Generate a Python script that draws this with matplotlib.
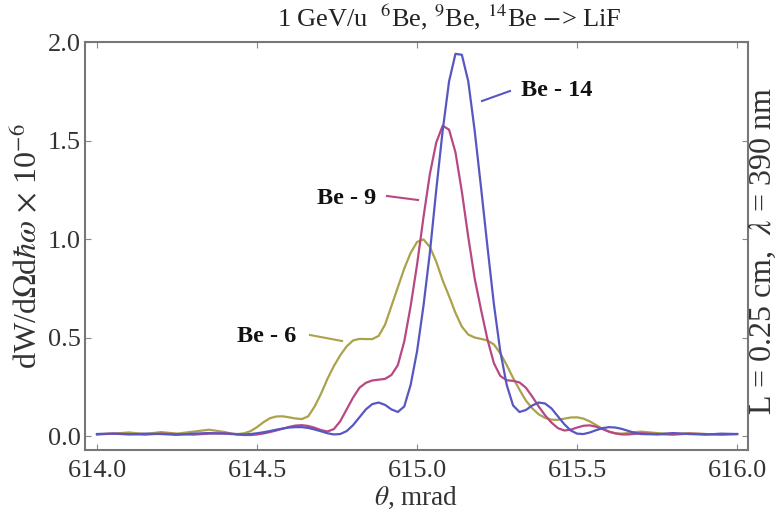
import numpy as np
import matplotlib
matplotlib.use("Agg")
import matplotlib.pyplot as plt

plt.rcParams['font.family'] = ['Liberation Serif', 'DejaVu Serif']
plt.rcParams['mathtext.fontset'] = 'stix'

# angle grid, mrad: coarse in the tails, fine around the peaks
theta = np.concatenate([
    np.round(np.arange(614.00, 614.36, 0.05), 2),
    np.round(np.arange(614.40, 615.701, 0.02), 2),
    np.round(np.arange(615.75, 616.001, 0.05), 2),
])

# dW/dOmega d(hbar omega), units of 1e-6
be14 = [0.010, 0.012, 0.008, 0.012, 0.010, 0.006, 0.012, 0.015,
        0.012, 0.010, 0.008, 0.008, 0.010, 0.014, 0.019, 0.025, 0.032, 0.038,
        0.043, 0.045, 0.045, 0.041, 0.033, 0.024, 0.014, 0.008, 0.010, 0.025,
        0.055, 0.095, 0.135, 0.162, 0.170, 0.158, 0.135, 0.122, 0.150, 0.260,
        0.430, 0.660, 0.930, 1.250, 1.550, 1.800, 1.940, 1.935, 1.800, 1.550,
        1.260, 0.960, 0.670, 0.430, 0.260, 0.155, 0.122, 0.132, 0.155, 0.170,
        0.165, 0.140, 0.100, 0.060, 0.028, 0.012, 0.010, 0.018, 0.030, 0.040,
        0.045, 0.043, 0.036, 0.026, 0.016, 0.010,
        0.008, 0.015, 0.010, 0.007, 0.012, 0.010]

be9 = [0.008, 0.012, 0.010, 0.007, 0.012, 0.010, 0.007, 0.012,
       0.014, 0.012, 0.008, 0.005, 0.005, 0.008, 0.013, 0.020, 0.028, 0.037,
       0.046, 0.053, 0.055, 0.051, 0.042, 0.030, 0.023, 0.035, 0.075, 0.135,
       0.195, 0.245, 0.270, 0.282, 0.286, 0.290, 0.310, 0.360, 0.480, 0.660,
       0.870, 1.110, 1.330, 1.490, 1.575, 1.555, 1.440, 1.240, 1.010, 0.800,
       0.640, 0.490, 0.370, 0.305, 0.283, 0.280, 0.272, 0.245, 0.200, 0.150,
       0.105, 0.068, 0.040, 0.028, 0.032, 0.043, 0.052, 0.054, 0.047, 0.035,
       0.022, 0.013, 0.008, 0.008, 0.011, 0.014,
       0.010, 0.007, 0.012, 0.010, 0.007, 0.010]

be6 = [0.010, 0.012, 0.018, 0.010, 0.020, 0.012, 0.022, 0.032,
       0.020, 0.012, 0.010, 0.014, 0.025, 0.045, 0.070, 0.090, 0.099, 0.100,
       0.095, 0.089, 0.086, 0.100, 0.150, 0.215, 0.290, 0.355, 0.410, 0.455,
       0.485, 0.493, 0.492, 0.492, 0.508, 0.565, 0.660, 0.755, 0.850, 0.930,
       0.985, 0.998, 0.960, 0.885, 0.790, 0.710, 0.625, 0.555, 0.515, 0.500,
       0.493, 0.485, 0.465, 0.420, 0.360, 0.295, 0.235, 0.180, 0.140, 0.110,
       0.092, 0.083, 0.082, 0.088, 0.094, 0.095, 0.088, 0.074, 0.055, 0.036,
       0.022, 0.014, 0.012, 0.015, 0.020, 0.022,
       0.015, 0.010, 0.014, 0.010, 0.008, 0.010]

names = ["Be - 6", "Be - 9", "Be - 14"]
colors = ["#aba24c", "#b84883", "#5757c2"]

fig = plt.figure(figsize=(7.8, 5.18), dpi=100)
ax = fig.add_axes([85 / 780, 68 / 518, 663 / 780, 408 / 518])

for y, c in zip([be6, be9, be14], colors):
    ax.plot(theta, y, color=c, lw=1.6, solid_joinstyle='round')

ax.set_xlim(613.9625, 616.034)
ax.set_ylim(-0.071, 2.0)
ax.set_xticks(np.arange(614.0, 616.01, 0.5))
ax.set_yticks(np.arange(0.0, 2.01, 0.5))
ax.xaxis.set_major_formatter(matplotlib.ticker.FormatStrFormatter('%.1f'))
ax.yaxis.set_major_formatter(matplotlib.ticker.FormatStrFormatter('%.1f'))
ax.tick_params(direction='in', length=4, width=0.8, color='#888888',
               labelsize=19, labelcolor='#333333', top=True, right=True)
ax.tick_params(axis='x', pad=7)
ax.tick_params(axis='y', pad=3)
for s in ax.spines.values():
    s.set_color('#777777')
    s.set_linewidth(1.5)

ax.set_xlabel(r'$\theta$, mrad', fontsize=19.5, color='#333333', labelpad=2)
ax.set_ylabel(r'dW/d$\Omega$d$\hbar\omega$ $\times$ 10$^{-6}$', fontsize=23,
              color='#333333', labelpad=3)

fig.text(449 / 780, 1 - 17 / 518, r'1 GeV/u  $^{6}$Be, $^{9}$Be, $^{14}$Be $-$> LiF',
         ha='center', va='center', fontsize=19, color='#222222')
fig.text(763 / 780, 1 - 251 / 518, r'L = 0.25 cm,  $\lambda$ = 390 nm',
         ha='center', va='center', rotation=90, fontsize=23, color='#333333')

# series labels with short leader lines
labels = [(267, 337, 310, 335, 342, 341),
          (347, 198, 387, 196, 418, 200),
          (557, 91, 510, 91, 482, 101)]
for name, c, (tx, ty, x0, y0, x1, y1) in zip(names, colors, labels):
    fig.text(tx / 780, 1 - ty / 518, name, ha='center', va='center',
             fontsize=17.5, fontweight='bold', color='#111111')
    fig.add_artist(plt.Line2D([x0 / 780, x1 / 780], [1 - y0 / 518, 1 - y1 / 518],
                              color=c, lw=1.5))

fig.savefig("out.png", dpi=100)
